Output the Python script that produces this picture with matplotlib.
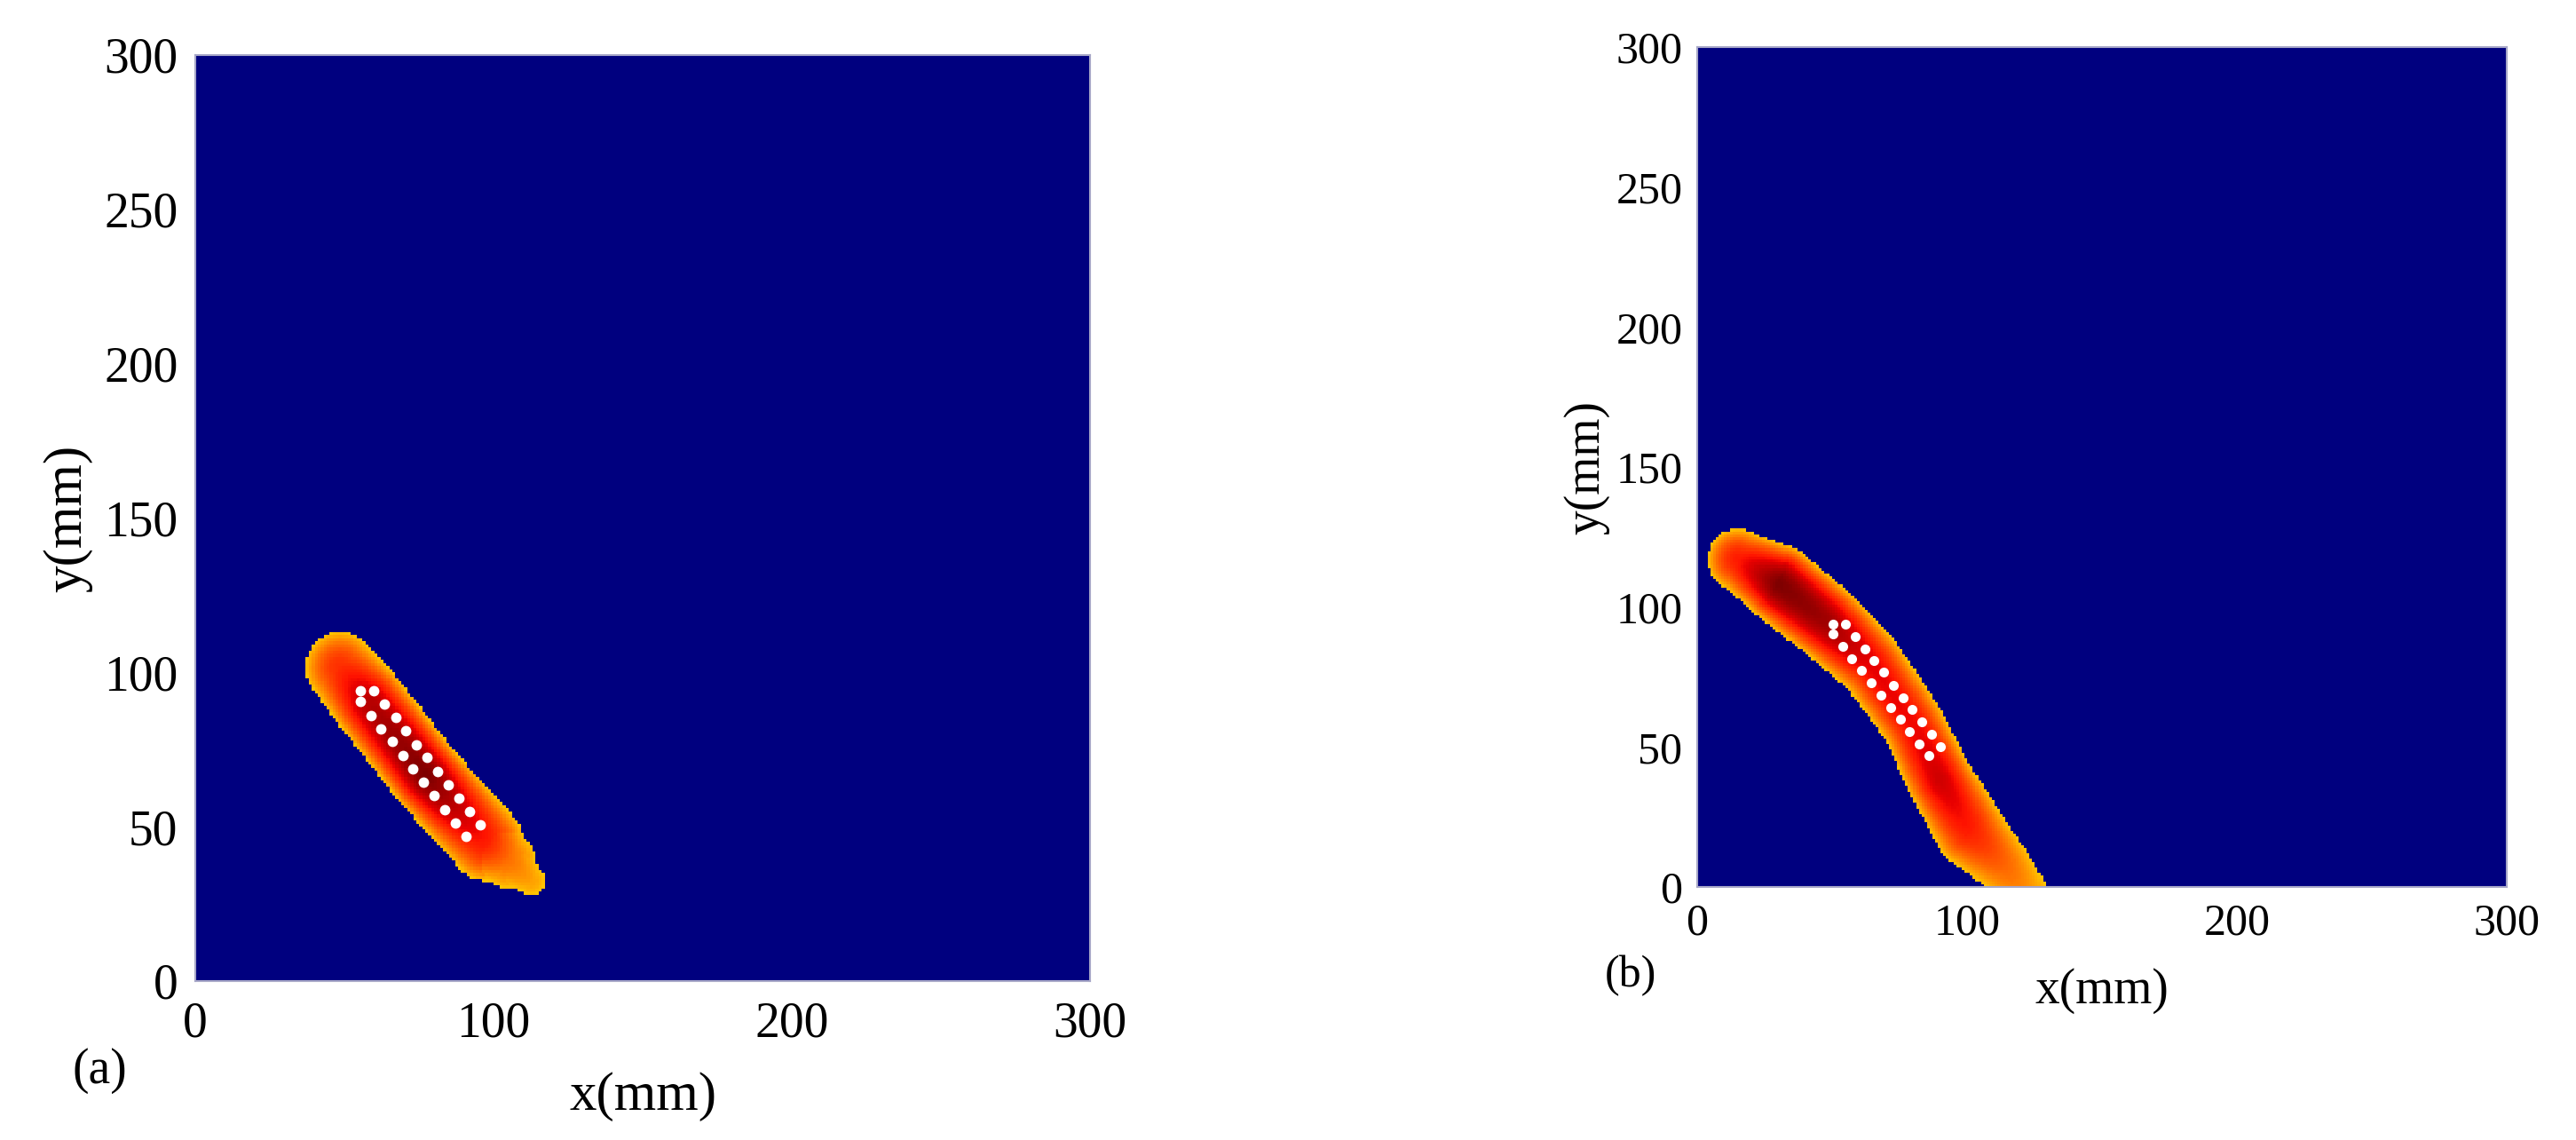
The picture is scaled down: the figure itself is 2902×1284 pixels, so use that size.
import matplotlib
matplotlib.use('Agg')
import matplotlib.pyplot as plt
import numpy as np

plt.rcParams['font.family'] = ['Liberation Serif', 'DejaVu Serif']

# plume (a): centre line, half width and peak level (mm)
a_cx = [48.5, 57.7, 77.7, 97.6, 105.0, 112.5]
a_cy = [101.5, 90.8, 66.1, 44.8, 39.0, 32.5]
a_hw = [11.5, 12.4, 12.4, 12.4, 9.0, 4.5]
a_pk = [0.86, 0.95, 1.0, 0.88, 0.79, 0.74]

# plume (b)
b_cx = [15, 30, 48, 64, 80, 90, 101, 114, 121]
b_cy = [117, 108.5, 94.5, 80, 58, 38, 20, 7, -2]
b_hw = [11, 14, 13.7, 12.3, 11.5, 12.3, 13, 10, 8.5]
b_pk = [0.88, 1.0, 0.97, 0.91, 0.9, 0.93, 0.88, 0.8, 0.76]

# sensor array positions (mm)
a_sx = [55.4, 55.4, 58.9, 62.2, 66.1, 69.6, 72.9, 76.5, 80.1, 83.6, 87.2, 90.8,
        59.8, 63.4, 67.3, 70.5, 74.1, 77.7, 81.2, 84.8, 88.4, 92.0, 95.5]
a_sy = [94.1, 90.6, 86.0, 81.7, 77.7, 73.1, 68.7, 64.4, 60.1, 55.5, 51.2, 46.9,
        94.1, 89.7, 85.4, 81.1, 76.5, 72.5, 67.9, 63.6, 59.3, 54.9, 50.6]
b_sx = [50.3, 50.3, 53.9, 57.4, 60.9, 64.4, 68.0, 71.6, 75.2, 78.7, 82.2, 85.8,
        55.0, 58.5, 62.1, 65.6, 69.2, 72.7, 76.2, 79.7, 83.2, 86.8, 90.3]
b_sy = [93.9, 90.5, 85.9, 81.5, 77.3, 72.8, 68.5, 64.1, 59.9, 55.5, 51.1, 47.0,
        93.9, 89.4, 85.0, 80.9, 76.7, 72.0, 67.6, 63.4, 59.0, 54.5, 50.2]

ticks = [0, 100, 200, 300]
yticks = [0, 50, 100, 150, 200, 250, 300]
edge = 0.70


def plume(cx, cy, hw, pk, n=300):
    g = np.arange(n) + 0.5
    X, Y = np.meshgrid(g, g)
    rmin = np.full(X.shape, np.inf)
    peak = np.zeros(X.shape)
    for i in range(len(cx) - 1):
        x0, y0, x1, y1 = cx[i], cy[i], cx[i+1], cy[i+1]
        dx, dy = x1 - x0, y1 - y0
        t = np.clip(((X - x0)*dx + (Y - y0)*dy) / (dx*dx + dy*dy), 0, 1)
        d = np.hypot(X - (x0 + t*dx), Y - (y0 + t*dy))
        r = d / (hw[i] + t*(hw[i+1] - hw[i]))
        p = pk[i] + t*(pk[i+1] - pk[i])
        m = r < rmin
        rmin[m] = r[m]
        peak[m] = p[m]
    return np.where(rmin < 1, edge + (peak - edge)*(1 - rmin**2), 0.0)


fig = plt.figure(figsize=(29.02, 12.84), dpi=100)
ax1 = fig.add_axes([0.07581, 0.13941, 0.34735, 0.81231])
ax2 = fig.add_axes([0.65885, 0.22196, 0.31427, 0.73676])

panels = [(ax1, a_cx, a_cy, a_hw, a_pk, a_sx, a_sy, 40, 44, 8.5, 16.5, 14),
          (ax2, b_cx, b_cy, b_hw, b_pk, b_sx, b_sy, 36, 40, 8.0, 13, 12)]

for ax, cx, cy, hw, pk, sx, sy, fs, lfs, ms, xpad, ypad in panels:
    z = plume(cx, cy, hw, pk)
    ax.imshow(z, cmap='jet', vmin=0, vmax=1, origin='lower',
              extent=[0, 300, 0, 300], interpolation='nearest', aspect='auto')
    ax.plot(sx, sy, 'o', color='white', markersize=ms, markeredgewidth=0)
    ax.set_xlim(0, 300)
    ax.set_ylim(0, 300)
    ax.set_xticks(ticks)
    ax.set_yticks(yticks)
    ax.tick_params(axis='x', length=0, labelsize=fs, pad=xpad)
    ax.tick_params(axis='y', length=0, labelsize=fs, pad=ypad)
    for s in ax.spines.values():
        s.set_color('#a8a8c8')
        s.set_linewidth(1.5)
    ax.set_xlabel('x(mm)', fontsize=lfs)
    ax.set_ylabel('y(mm)', fontsize=lfs)

# label positions (axes coords)
ax1.xaxis.set_label_coords(0.5, -0.1246)
ax1.yaxis.set_label_coords(-0.1429, 0.5)
ax2.xaxis.set_label_coords(0.5, -0.1237)
ax2.yaxis.set_label_coords(-0.1371, 0.5)
for ax in (ax1, ax2):
    ax.xaxis.label.set_verticalalignment('center')
    ax.yaxis.label.set_verticalalignment('center')

fig.text(112/2902, 1 - 1206/1284, '(a)', fontsize=40, ha='center', va='center')
fig.text(1837/2902, 1 - 1099/1284, '(b)', fontsize=36, ha='center', va='center')

plt.savefig('out.png', dpi=100)
